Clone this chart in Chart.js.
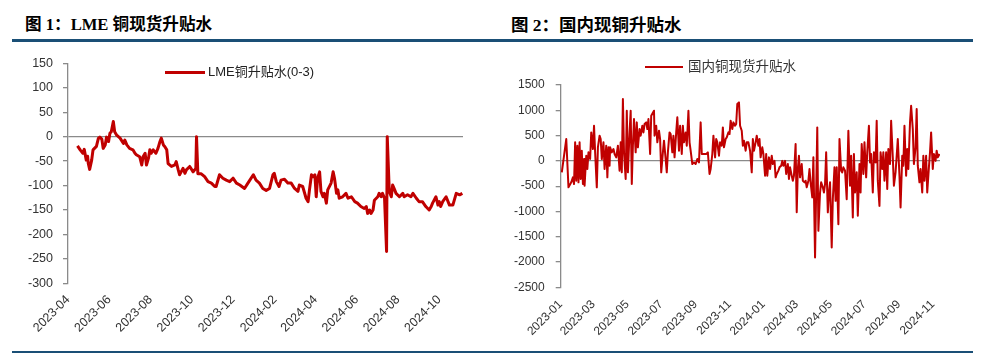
<!DOCTYPE html>
<html><head><meta charset="utf-8">
<script src="https://cdn.jsdelivr.net/npm/chart.js@4.4.1/dist/chart.umd.min.js"></script>
<style>
body{margin:0;background:#fff;width:987px;height:355px;position:relative;overflow:hidden;font-family:"Liberation Sans","Noto Sans CJK SC",sans-serif;}
.title{position:absolute;top:14px;font-family:"Liberation Serif","Noto Sans CJK SC",serif;font-weight:700;font-size:17px;color:#000;line-height:22px;white-space:nowrap}
.rule{position:absolute;left:12px;width:961px;background:#1a4f76}
.box{position:absolute;top:45px;height:305px}
.legend{position:absolute;white-space:nowrap;color:#222;display:flex;align-items:center;height:16px;line-height:16px}
.legend i{display:inline-block;background:#c00000;margin-right:3px}
</style></head>
<body>
<div class="title" style="left:25px;font-size:16.6px">图 1：LME 铜现货升贴水</div>
<div class="title" style="left:511px;font-size:17.5px">图 2：国内现铜升贴水</div>
<div class="rule" style="top:39px;height:3px"></div>
<div class="rule" style="top:351px;height:2px"></div>
<div class="box" style="left:0;width:490px"><canvas id="c1" width="490" height="305"></canvas></div>
<div class="box" style="left:490px;width:497px"><canvas id="c2" width="497" height="305"></canvas></div>
<div class="legend" style="left:165px;top:64px;font-size:13px"><i style="width:40px;height:3px"></i><span>LME铜升贴水(0-3)</span></div>
<div class="legend" style="left:645px;top:59px;font-size:13.5px;color:#333"><i style="width:38px;height:2px;margin-right:5px"></i><span>国内铜现货升贴水</span></div>
<script>
// ---- LME copper spread (0-3) ----
const lmeDates = ['2023-04-15','2023-04-19','2023-04-23','2023-04-25','2023-04-28','2023-04-30','2023-05-01','2023-05-03','2023-05-06','2023-05-08','2023-05-13','2023-05-16','2023-05-18','2023-05-21','2023-05-23','2023-05-26','2023-05-28','2023-05-31','2023-06-02','2023-06-04','2023-06-07','2023-06-09','2023-06-12','2023-06-17','2023-06-22','2023-06-24','2023-06-27','2023-07-01','2023-07-06','2023-07-09','2023-07-11','2023-07-16','2023-07-19','2023-07-21','2023-07-24','2023-07-26','2023-07-29','2023-07-31','2023-08-02','2023-08-05','2023-08-09','2023-08-12','2023-08-15','2023-08-17','2023-08-20','2023-08-22','2023-08-25','2023-08-27','2023-09-01','2023-09-06','2023-09-08','2023-09-11','2023-09-13','2023-09-18','2023-09-21','2023-09-23','2023-09-28','2023-10-03','2023-10-07','2023-10-08','2023-10-10','2023-10-15','2023-10-20','2023-10-25','2023-10-30','2023-11-04','2023-11-06','2023-11-11','2023-11-16','2023-11-21','2023-11-26','2023-12-01','2023-12-06','2023-12-11','2023-12-18','2023-12-23','2023-12-31','2024-01-04','2024-01-09','2024-01-14','2024-01-19','2024-01-24','2024-01-29','2024-01-31','2024-02-03','2024-02-07','2024-02-10','2024-02-15','2024-02-20','2024-02-25','2024-03-01','2024-03-06','2024-03-08','2024-03-13','2024-03-18','2024-03-21','2024-03-23','2024-03-26','2024-03-28','2024-03-31','2024-04-02','2024-04-04','2024-04-07','2024-04-09','2024-04-12','2024-04-14','2024-04-17','2024-04-19','2024-04-24','2024-04-27','2024-04-29','2024-05-02','2024-05-04','2024-05-06','2024-05-11','2024-05-16','2024-05-19','2024-05-24','2024-05-29','2024-06-02','2024-06-07','2024-06-12','2024-06-15','2024-06-17','2024-06-20','2024-06-22','2024-06-25','2024-06-27','2024-07-02','2024-07-04','2024-07-07','2024-07-09','2024-07-12','2024-07-15','2024-07-16','2024-07-19','2024-07-22','2024-07-24','2024-07-27','2024-07-29','2024-08-03','2024-08-08','2024-08-10','2024-08-15','2024-08-20','2024-08-23','2024-08-28','2024-09-01','2024-09-06','2024-09-11','2024-09-16','2024-09-19','2024-09-21','2024-09-26','2024-09-29','2024-10-01','2024-10-03','2024-10-06','2024-10-11','2024-10-16','2024-10-21','2024-10-26','2024-10-31','2024-11-04'];
const lmeValues = [-19,-27,-34,-26,-48,-40,-55,-67,-48,-27,-20,-3,-1,-5,-24,-17,-1,-10,7,10,31,10,3,-3,-14,-7,-17,-24,-27,-34,-37,-41,-58,-41,-34,-58,-44,-27,-34,-27,-34,-24,-10,-3,-17,-20,-27,-55,-61,-58,-51,-68,-78,-65,-75,-68,-61,-72,-65,0,-76,-76,-82,-92,-95,-102,-102,-78,-85,-89,-92,-85,-95,-99,-106,-95,-78,-89,-95,-106,-110,-106,-78,-75,-92,-102,-89,-87,-95,-95,-106,-112,-99,-102,-126,-133,-109,-78,-82,-78,-123,-85,-72,-112,-123,-116,-136,-109,-95,-72,-85,-116,-109,-126,-123,-116,-126,-123,-133,-136,-143,-147,-143,-157,-150,-157,-150,-130,-123,-116,-123,-116,-126,-235,0,-112,-123,-99,-109,-116,-123,-116,-123,-119,-123,-116,-126,-133,-133,-143,-150,-143,-136,-123,-140,-133,-143,-133,-123,-140,-140,-116,-119,-116];
const lmeTicks = ['2023-04-01','2023-06-01','2023-08-01','2023-10-01','2023-12-01','2024-02-01','2024-04-01','2024-06-01','2024-08-01','2024-10-01'];
const lmeYTicks = [-300,-250,-200,-150,-100,-50,0,50,100,150];

// ---- Domestic copper spot premium/discount ----
const domDates = ['2023-01-03','2023-01-11','2023-01-15','2023-01-20','2023-01-23','2023-01-25','2023-01-27','2023-01-29','2023-01-31','2023-02-02','2023-02-04','2023-02-06','2023-02-08','2023-02-10','2023-02-12','2023-02-13','2023-02-16','2023-02-18','2023-02-20','2023-02-23','2023-02-25','2023-02-28','2023-03-02','2023-03-04','2023-03-07','2023-03-09','2023-03-12','2023-03-14','2023-03-16','2023-03-19','2023-03-21','2023-03-24','2023-03-26','2023-03-28','2023-03-30','2023-03-31','2023-04-03','2023-04-06','2023-04-08','2023-04-11','2023-04-14','2023-04-17','2023-04-19','2023-04-21','2023-04-23','2023-04-25','2023-04-28','2023-04-30','2023-05-02','2023-05-05','2023-05-07','2023-05-09','2023-05-11','2023-05-13','2023-05-16','2023-05-18','2023-05-20','2023-05-23','2023-05-25','2023-05-28','2023-05-30','2023-06-01','2023-06-04','2023-06-06','2023-06-08','2023-06-11','2023-06-13','2023-06-18','2023-06-19','2023-06-22','2023-06-24','2023-06-27','2023-06-29','2023-07-01','2023-07-04','2023-07-06','2023-07-09','2023-07-11','2023-07-13','2023-07-16','2023-07-18','2023-07-21','2023-07-23','2023-07-25','2023-07-28','2023-07-30','2023-08-02','2023-08-04','2023-08-07','2023-08-09','2023-08-11','2023-08-14','2023-08-16','2023-08-19','2023-08-21','2023-08-23','2023-08-26','2023-08-29','2023-09-01','2023-09-04','2023-09-07','2023-09-10','2023-09-12','2023-09-16','2023-09-20','2023-09-23','2023-09-26','2023-09-28','2023-10-01','2023-10-03','2023-10-06','2023-10-08','2023-10-10','2023-10-13','2023-10-15','2023-10-18','2023-10-20','2023-10-22','2023-10-25','2023-10-27','2023-10-30','2023-11-01','2023-11-03','2023-11-06','2023-11-08','2023-11-11','2023-11-13','2023-11-15','2023-11-18','2023-11-20','2023-11-23','2023-11-25','2023-11-27','2023-11-30','2023-12-02','2023-12-05','2023-12-08','2023-12-11','2023-12-13','2023-12-15','2023-12-18','2023-12-20','2023-12-23','2023-12-25','2023-12-27','2023-12-30','2024-01-01','2024-01-04','2024-01-06','2024-01-08','2024-01-11','2024-01-13','2024-01-16','2024-01-18','2024-01-21','2024-01-23','2024-01-25','2024-01-28','2024-01-30','2024-02-02','2024-02-04','2024-02-06','2024-02-09','2024-02-11','2024-02-14','2024-02-16','2024-02-18','2024-02-21','2024-02-23','2024-02-25','2024-02-28','2024-03-01','2024-03-03','2024-03-05','2024-03-07','2024-03-10','2024-03-12','2024-03-15','2024-03-17','2024-03-19','2024-03-22','2024-03-24','2024-03-26','2024-03-29','2024-03-31','2024-04-03','2024-04-05','2024-04-07','2024-04-09','2024-04-12','2024-04-14','2024-04-17','2024-04-19','2024-04-21','2024-04-23','2024-04-26','2024-04-28','2024-04-30','2024-05-03','2024-05-05','2024-05-08','2024-05-10','2024-05-12','2024-05-15','2024-05-17','2024-05-20','2024-05-22','2024-05-24','2024-05-27','2024-05-30','2024-06-02','2024-06-05','2024-06-07','2024-06-10','2024-06-12','2024-06-14','2024-06-17','2024-06-19','2024-06-22','2024-06-24','2024-06-26','2024-06-29','2024-07-01','2024-07-04','2024-07-06','2024-07-09','2024-07-11','2024-07-13','2024-07-16','2024-07-18','2024-07-21','2024-07-23','2024-07-25','2024-07-28','2024-07-30','2024-08-02','2024-08-04','2024-08-06','2024-08-09','2024-08-11','2024-08-13','2024-08-16','2024-08-18','2024-08-21','2024-08-23','2024-08-26','2024-08-28','2024-08-30','2024-09-02','2024-09-04','2024-09-07','2024-09-09','2024-09-11','2024-09-14','2024-09-16','2024-09-18','2024-09-21','2024-09-23','2024-09-26','2024-09-28','2024-10-01','2024-10-03','2024-10-05','2024-10-08','2024-10-10','2024-10-13','2024-10-15','2024-10-17','2024-10-20','2024-10-22','2024-10-25','2024-10-27','2024-10-29','2024-11-01','2024-11-03','2024-11-06','2024-11-08','2024-11-10','2024-11-13'];
const domValues = [-227,432,-524,-425,-326,-458,366,-392,300,-425,366,-359,201,-458,36,-491,102,-161,168,36,563,234,695,168,-524,267,498,432,36,366,-161,300,-326,267,-96,267,168,234,135,69,300,-194,366,-227,1222,168,-359,992,-227,563,992,-458,300,827,168,761,267,629,498,695,563,728,761,629,827,135,893,992,498,695,366,596,432,-227,168,399,36,-227,168,563,530,168,498,69,563,860,201,695,135,695,366,563,300,992,366,201,-63,-30,-63,36,-30,761,135,135,135,168,-260,-161,135,498,69,432,366,102,366,300,662,267,432,465,563,530,794,629,761,695,728,1124,1156,695,596,300,399,201,366,366,201,-227,432,201,366,498,300,432,69,267,135,-293,135,-293,69,-161,102,-63,0,-326,-260,-194,-128,-96,0,-96,0,-260,-63,-359,-128,-293,-392,-293,333,-1018,-161,102,-326,-63,-392,-425,-392,-524,-392,-161,-425,-722,69,-1911,-626,662,-1384,-626,-425,-524,-626,-458,168,-1018,-626,-425,-1713,-758,-128,-791,-128,-1252,432,-194,-227,-128,-194,-758,596,-491,102,-1120,135,-626,-227,-1087,-63,-626,333,-260,366,-326,168,695,-30,135,-626,168,-30,794,-392,-890,168,-161,168,-392,168,-557,234,-63,794,69,-491,-227,102,432,-293,-923,102,-96,695,-293,234,-161,761,1090,629,-63,267,1025,-96,-425,-161,-626,102,-392,102,-626,-128,168,563,-161,135,0,201,69,135];
const domTicks = ['2023-01-01','2023-03-01','2023-05-01','2023-07-01','2023-09-01','2023-11-01','2024-01-01','2024-03-01','2024-05-01','2024-07-01','2024-09-01','2024-11-01'];
const domYTicks = [-2500,-2000,-1500,-1000,-500,0,500,1000,1500];

const DAY = 86400000;
const toDay = s => { const p = s.split('-').map(Number); return Date.UTC(p[0], p[1]-1, p[2]) / DAY; };
const fmt = v => { const dt = new Date(Math.round(v) * DAY); return dt.getUTCFullYear() + '-' + String(dt.getUTCMonth()+1).padStart(2,'0'); };
const AX = '#8a8a8a';

function makeChart(id, dates, values, xTicks, yTicks, cfg) {
  return new Chart(document.getElementById(id), {
    type: 'line',
    data: { datasets: [{ data: dates.map((d, i) => ({ x: toDay(d), y: values[i] })),
      borderColor: '#c00000', borderWidth: cfg.lw, pointRadius: 0, tension: 0, borderJoinStyle: 'round' }] },
    options: {
      responsive: false, animation: false, devicePixelRatio: 1,
      layout: { padding: { left: 0, right: cfg.padR, top: cfg.padT, bottom: 0 } },
      plugins: { legend: { display: false }, tooltip: { enabled: false } },
      scales: {
        x: { type: 'linear', min: toDay(cfg.xMin), max: toDay(cfg.xMax),
          afterBuildTicks: s => { s.ticks = xTicks.map(t => ({ value: toDay(t) })); },
          afterFit: s => { s.height = cfg.xH; },
          grid: { display: false, drawTicks: false }, border: { display: false },
          ticks: { autoSkip: false, maxRotation: 45, minRotation: 45, padding: cfg.xPad, color: '#333',
            font: { family: 'Liberation Sans', size: cfg.xfs }, callback: v => fmt(v) } },
        y: { min: yTicks[0], max: yTicks[yTicks.length-1],
          afterBuildTicks: s => { s.ticks = yTicks.map(v => ({ value: v })); },
          afterFit: s => { s.width = cfg.yW; },
          ticks: { padding: cfg.yPad, color: '#333', font: { family: 'Liberation Sans', size: cfg.yfs }, callback: v => String(v) },
          grid: { color: c => (c.tick && c.tick.value === 0) ? AX : 'rgba(0,0,0,0)', tickColor: AX, tickLength: 5, lineWidth: 1.3 },
          border: { display: true, color: AX, width: 1.3 } }
      }
    }
  });
}

makeChart('c1', lmeDates, lmeValues, lmeTicks, lmeYTicks,
  { lw: 3, padR: 27, padT: 18.3, xH: 66.7, yW: 68, xPad: 9, yPad: 10, xfs: 12.5, yfs: 12.5, xMin: '2023-04-01', xMax: '2024-11-05' });
makeChart('c2', domDates, domValues, domTicks, domYTicks,
  { lw: 2, padR: 47, padT: 40, xH: 62.7, yW: 70.7, xPad: 10, yPad: 11, xfs: 12, yfs: 12, xMin: '2023-01-01', xMax: '2024-11-14' });
</script>
</body></html>
